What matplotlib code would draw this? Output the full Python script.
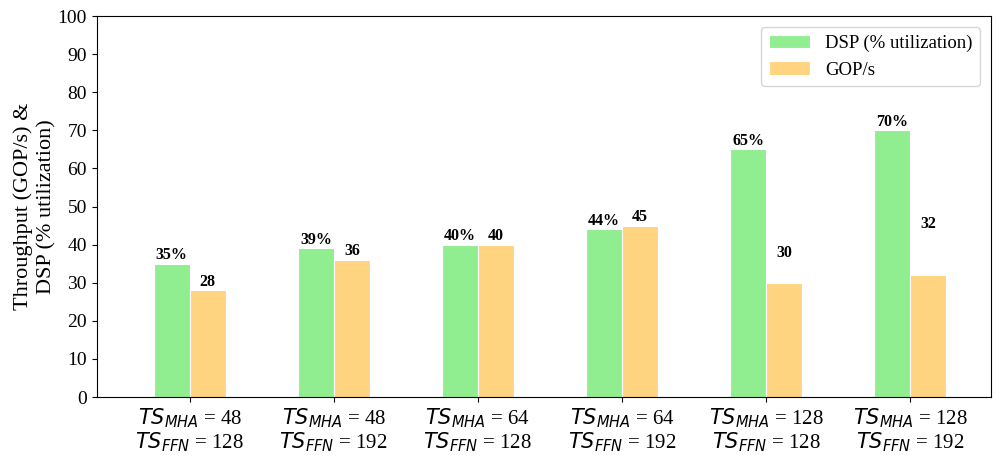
import matplotlib
matplotlib.use("Agg")
import matplotlib.pyplot as plt
import numpy as np

plt.rcParams['font.family'] = ['Liberation Serif', 'DejaVu Serif']

# configurations (tile sizes)
ts_mha = [48, 48, 64, 64, 128, 128]
ts_ffn = [128, 192, 128, 192, 128, 192]
dsp_util = [35, 39, 40, 44, 65, 70]
gops = [28, 36, 40, 45, 30, 32]
# extra lift for the GOP/s labels (as drawn in the original)
gops_label_lift = [0, 0, 0, 0, 5.5, 11]

labels = [r"$TS_{MHA}$ = %d" % m + "\n" + r"$TS_{FFN}$ = %d" % f
          for m, f in zip(ts_mha, ts_ffn)]

x = np.arange(len(labels))
width = 0.25

fig, ax = plt.subplots(figsize=(9.96, 4.58), dpi=100)

ax.bar(x - width / 2, dsp_util, width, color="#90EE90", edgecolor="white",
       linewidth=0.8, label="DSP (% utilization)")
ax.bar(x + width / 2, gops, width, color="#FFD480", edgecolor="white",
       linewidth=0.8, label="GOP/s")

for xi, v in zip(x, dsp_util):
    ax.text(xi - width / 2, v + 0.2, f"{v}%", ha="center", va="bottom",
            fontsize=11.5, fontweight="bold")
for xi, v, lift in zip(x, gops, gops_label_lift):
    ax.text(xi + width / 2, v + 0.2 + lift, f"{v}", ha="center", va="bottom",
            fontsize=11.5, fontweight="bold")

ax.set_ylim(0, 100)
ax.set_yticks(range(0, 101, 10))
ax.set_xlim(-0.646, 5.56)
ax.set_xticks(x)
ax.set_xticklabels(labels, fontsize=15, linespacing=1.0)
ax.tick_params(axis="y", labelsize=14)
ax.set_ylabel("Throughput (GOP/s) &\nDSP (% utilization)", fontsize=16,
              linespacing=1.3, labelpad=1)
ax.legend(loc="upper right", fontsize=13.5, borderaxespad=0.6,
          handlelength=2.2)

fig.subplots_adjust(left=0.097, right=0.995, top=0.965, bottom=0.133)
fig.savefig("out.png", dpi=100)
